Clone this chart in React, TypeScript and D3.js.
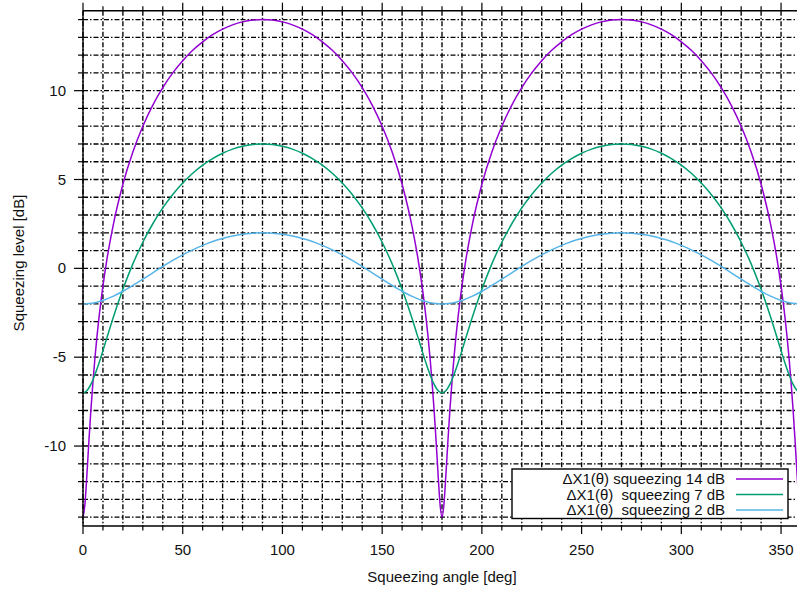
import * as d3 from 'd3';

// squeezing angle [deg]
const ANGLES = [
  0, 1, 2, 3, 4, 5, 6, 8, 10, 12, 15, 20, 25, 30, 35, 40, 45, 50, 55, 60, 65, 70, 75, 80, 85,
  90, 95, 100, 105, 110, 115, 120, 125, 130, 135, 140, 145, 150, 155, 160, 165, 168, 170, 172, 174, 175, 176, 177, 178, 179,
  180, 181, 182, 183, 184, 185, 186, 188, 190, 192, 195, 200, 205, 210, 215, 220, 225, 230, 235, 240, 245, 250, 255, 260, 265,
  270, 275, 280, 285, 290, 295, 300, 305, 310, 315, 320, 325, 330, 335, 340, 345, 348, 350, 352, 354, 355, 356, 357, 358, 359, 360,
];

// squeezing level [dB]
const SQZ_14 = [
  -14.0, -13.24, -11.53, -9.65, -7.91, -6.38, -5.03, -2.79, -0.99, 0.51, 2.35, 4.73, 6.55, 8.0, 9.19, 10.17, 11.0, 11.69, 12.27, 12.75, 13.15, 13.46, 13.7, 13.87, 13.97,
  14.0, 13.97, 13.87, 13.7, 13.46, 13.15, 12.75, 12.27, 11.69, 11.0, 10.17, 9.19, 8.0, 6.55, 4.73, 2.35, 0.51, -0.99, -2.79, -5.03, -6.38, -7.91, -9.65, -11.53, -13.24,
  -14.0, -13.24, -11.53, -9.65, -7.91, -6.38, -5.03, -2.79, -0.99, 0.51, 2.35, 4.73, 6.55, 8.0, 9.19, 10.17, 11.0, 11.69, 12.27, 12.75, 13.15, 13.46, 13.7, 13.87, 13.97,
  14.0, 13.97, 13.87, 13.7, 13.46, 13.15, 12.75, 12.27, 11.69, 11.0, 10.17, 9.19, 8.0, 6.55, 4.73, 2.35, 0.51, -0.99, -2.79, -5.03, -6.38, -7.91, -9.65, -11.53, -13.24, -14.0,
];
const SQZ_7 = [
  -7.0, -6.97, -6.87, -6.72, -6.52, -6.27, -5.98, -5.34, -4.63, -3.9, -2.82, -1.18, 0.25, 1.47, 2.51, 3.4, 4.16, 4.8, 5.35, 5.81, 6.18, 6.48, 6.71, 6.87, 6.97,
  7.0, 6.97, 6.87, 6.71, 6.48, 6.18, 5.81, 5.35, 4.8, 4.16, 3.4, 2.51, 1.47, 0.25, -1.18, -2.82, -3.9, -4.63, -5.34, -5.98, -6.27, -6.52, -6.72, -6.87, -6.97,
  -7.0, -6.97, -6.87, -6.72, -6.52, -6.27, -5.98, -5.34, -4.63, -3.9, -2.82, -1.18, 0.25, 1.47, 2.51, 3.4, 4.16, 4.8, 5.35, 5.81, 6.18, 6.48, 6.71, 6.87, 6.97,
  7.0, 6.97, 6.87, 6.71, 6.48, 6.18, 5.81, 5.35, 4.8, 4.16, 3.4, 2.51, 1.47, 0.25, -1.18, -2.82, -3.9, -4.63, -5.34, -5.98, -6.27, -6.52, -6.72, -6.87, -6.97, -7.0,
];
const SQZ_2 = [
  -2.0, -2.0, -1.99, -1.98, -1.97, -1.95, -1.93, -1.87, -1.81, -1.72, -1.58, -1.29, -0.96, -0.61, -0.25, 0.11, 0.45, 0.76, 1.04, 1.29, 1.51, 1.68, 1.82, 1.92, 1.98,
  2.0, 1.98, 1.92, 1.82, 1.68, 1.51, 1.29, 1.04, 0.76, 0.45, 0.11, -0.25, -0.61, -0.96, -1.29, -1.58, -1.72, -1.81, -1.87, -1.93, -1.95, -1.97, -1.98, -1.99, -2.0,
  -2.0, -2.0, -1.99, -1.98, -1.97, -1.95, -1.93, -1.87, -1.81, -1.72, -1.58, -1.29, -0.96, -0.61, -0.25, 0.11, 0.45, 0.76, 1.04, 1.29, 1.51, 1.68, 1.82, 1.92, 1.98,
  2.0, 1.98, 1.92, 1.82, 1.68, 1.51, 1.29, 1.04, 0.76, 0.45, 0.11, -0.25, -0.61, -0.96, -1.29, -1.58, -1.72, -1.81, -1.87, -1.93, -1.95, -1.97, -1.98, -1.99, -2.0,
];

const SERIES = [
  { label: 'ΔX1(θ) squeezing 14 dB', values: SQZ_14, color: '#9400d3' },
  { label: 'ΔX1(θ)\u00a0 squeezing 7 dB', values: SQZ_7, color: '#009e73' },
  { label: 'ΔX1(θ)\u00a0 squeezing 2 dB', values: SQZ_2, color: '#56b4e9' },
];

const X_MAJOR = [0, 50, 100, 150, 200, 250, 300, 350];
const Y_MAJOR = [-10, -5, 0, 5, 10];

const W = 797;
const H = 590;
const M = { left: 83, top: 10.7, right: 801, bottom: 526 };
const FONT = '"Liberation Sans", Arial, sans-serif';
const GRID_DASH = '5,2,1.5,2';

export default function App() {
  const x = d3.scaleLinear().domain([0, 360]).range([M.left, M.right]);
  const y = d3.scaleLinear().domain([-14.5, 14.5]).range([M.bottom, M.top]);

  const xMinor = d3.range(0, 361, 10);
  const yMinor = d3.range(-14, 15, 1);

  const line = (vals: number[]) =>
    d3.line<number>()
      .x((_, i) => x(ANGLES[i]))
      .y((v) => y(v))
      .curve(d3.curveMonotoneX)(vals) || '';

  const legendRight = 725;
  const legendRows = [479, 494.5, 510];

  return (
    <svg width={W} height={H} style={{ position: 'absolute', left: 0, top: 0, background: '#fff' }} fontFamily={FONT}>
      <defs>
        <clipPath id="plot">
          <rect x={M.left} y={M.top} width={M.right - M.left} height={M.bottom - M.top} />
        </clipPath>
      </defs>

      {/* grid */}
      <g stroke="#000" strokeWidth={1.35} strokeDasharray={GRID_DASH} fill="none">
        {xMinor.map((d) => (
          <line key={'gx' + d} x1={x(d)} x2={x(d)} y1={M.top} y2={M.bottom} />
        ))}
        {yMinor.map((d) => (
          <line key={'gy' + d} x1={M.left} x2={M.right} y1={y(d)} y2={y(d)} />
        ))}
      </g>

      {/* ticks */}
      <g stroke="#000" strokeWidth={1.2}>
        {xMinor.map((d) => {
          const len = d % 50 === 0 ? 8 : 4.5;
          return (
            <g key={'tx' + d}>
              <line x1={x(d)} x2={x(d)} y1={M.bottom} y2={M.bottom + len} />
              <line x1={x(d)} x2={x(d)} y1={M.top} y2={M.top - len} />
            </g>
          );
        })}
        {yMinor.map((d) => {
          const len = d % 5 === 0 ? 9 : 5;
          return <line key={'ty' + d} x1={M.left - len} x2={M.left} y1={y(d)} y2={y(d)} />;
        })}
      </g>

      {/* curves */}
      <g clipPath="url(#plot)" fill="none" strokeWidth={1.5}>
        {SERIES.map((s) => (
          <path key={s.label} d={line(s.values)} stroke={s.color} />
        ))}
      </g>

      {/* border */}
      <g stroke="#000" strokeWidth={1.4}>
        <line x1={M.left} x2={M.right} y1={M.top} y2={M.top} />
        <line x1={M.left} x2={M.right} y1={M.bottom} y2={M.bottom} />
        <line x1={M.left} x2={M.left} y1={M.top} y2={M.bottom} />
      </g>

      {/* tick labels */}
      <g fontSize={15} fill="#111">
        {X_MAJOR.map((d) => (
          <text key={'lx' + d} x={x(d)} y={555} textAnchor="middle">{d}</text>
        ))}
        {Y_MAJOR.map((d) => (
          <text key={'ly' + d} x={66} y={y(d) + 5} textAnchor="end">{d}</text>
        ))}
      </g>

      {/* axis titles */}
      <text x={(M.left + M.right) / 2} y={582} textAnchor="middle" fontSize={15} fill="#111">
        Squeezing angle [deg]
      </text>
      <text transform={`translate(23.5,${263}) rotate(-90)`} textAnchor="middle" fontSize={15} fill="#111">
        Squeezing level [dB]
      </text>

      {/* legend */}
      <rect x={512} y={469} width={276} height={49.5} fill="#fff" stroke="#000" strokeWidth={1.4} />
      {SERIES.map((s, i) => (
        <g key={'lg' + i}>
          <text x={legendRight} y={legendRows[i] + 5} textAnchor="end" fontSize={15} fill="#111">
            {s.label}
          </text>
          <line x1={736} x2={783} y1={legendRows[i]} y2={legendRows[i]} stroke={s.color} strokeWidth={1.5} />
        </g>
      ))}
    </svg>
  );
}
